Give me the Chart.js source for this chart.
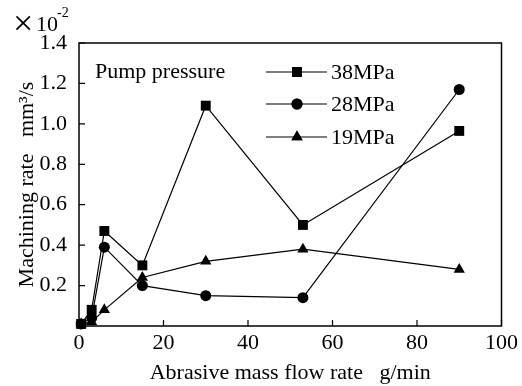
<!DOCTYPE html>
<html>
<head>
<meta charset="utf-8">
<script src="https://cdn.jsdelivr.net/npm/chart.js@4"></script>
<style>
  html, body { margin: 0; background: #fff; }
</style>
</head>
<body>
<canvas id="chart" width="522" height="386"></canvas>
<script>
// values (y in units of 10^-2 mm3/s)
const flowRate = [0.5, 3, 6, 15, 30, 53, 90];
const rate38 = [0.01, 0.08, 0.47, 0.30, 1.09, 0.50, 0.965];
const rate28 = [0.01, 0.04, 0.39, 0.20, 0.15, 0.14, 1.17];
const rate19 = [0.01, 0.02, 0.08, 0.24, 0.32, 0.38, 0.28];
const seriesNames = ["38MPa", "28MPa", "19MPa"];
const markers = ["rect", "circle", "triangle"];
const markerSizes = [7, 5.5, 6.5];
const xTicks = [0, 20, 40, 60, 80, 100];
const yTicks = [0.2, 0.4, 0.6, 0.8, 1.0, 1.2, 1.4];

const FONT = "'Liberation Serif', 'Times New Roman', serif";

function toPoints(ys) {
  return flowRate.map((x, i) => ({ x, y: ys[i] }));
}

// frame, inward ticks, exponent note and the hand-made legend
const decorations = {
  id: "decorations",
  afterDraw(chart) {
    const { ctx, chartArea: a, scales } = chart;
    ctx.save();
    ctx.strokeStyle = "#000";
    ctx.lineWidth = 1.5;
    ctx.strokeRect(a.left, a.top, a.right - a.left, a.bottom - a.top);

    ctx.lineWidth = 1.2;
    ctx.beginPath();
    xTicks.forEach(v => {
      const px = scales.x.getPixelForValue(v);
      ctx.moveTo(px, a.bottom);
      ctx.lineTo(px, a.bottom - 6);
    });
    yTicks.forEach(v => {
      const py = scales.y.getPixelForValue(v);
      ctx.moveTo(a.left, py);
      ctx.lineTo(a.left + 6, py);
    });
    ctx.stroke();

    ctx.fillStyle = "#000";
    ctx.textBaseline = "alphabetic";
    ctx.textAlign = "left";
    ctx.font = "36px " + FONT;
    ctx.fillText("×", 13, 35);
    ctx.font = "22px " + FONT;
    ctx.fillText("10", 36, 31);
    ctx.font = "14px " + FONT;
    ctx.fillText("-2", 57, 17);

    ctx.font = "22px " + FONT;
    ctx.fillText("Pump pressure", 95, 78);

    const rows = [72, 104, 137];
    chart.data.datasets.forEach((ds, i) => {
      const y = rows[i];
      ctx.lineWidth = 1.2;
      ctx.beginPath();
      ctx.moveTo(266, y);
      ctx.lineTo(327, y);
      ctx.stroke();
      Chart.helpers.drawPoint(ctx, {
        pointStyle: ds.pointStyle,
        radius: ds.pointRadius,
        rotation: 0,
        borderWidth: 0
      }, 297, y);
      ctx.fill();
      ctx.textBaseline = "middle";
      ctx.font = "22px " + FONT;
      ctx.fillText(ds.label, 331, y + 1);
    });
    ctx.restore();
  }
};

const datasets = [rate38, rate28, rate19].map((vals, i) => ({
  label: seriesNames[i],
  data: toPoints(vals),
  borderColor: "#000",
  backgroundColor: "#000",
  pointBackgroundColor: "#000",
  pointBorderColor: "#000",
  pointStyle: markers[i],
  pointRadius: markerSizes[i],
  pointBorderWidth: 0,
  borderWidth: 1.2,
  tension: 0,
  clip: false
}));

new Chart(document.getElementById("chart"), {
  type: "line",
  data: { datasets },
  options: {
    responsive: false,
    animation: false,
    layout: { padding: { top: 43, right: 17, left: 0, bottom: 0 } },
    plugins: {
      legend: { display: false },
      tooltip: { enabled: false }
    },
    scales: {
      x: {
        type: "linear",
        min: 0,
        max: 100,
        afterBuildTicks: (s) => { s.ticks = xTicks.map(v => ({ value: v })); },
        afterFit: (s) => { s.height = 60; },
        grid: { display: false, drawTicks: false },
        border: { display: false },
        ticks: { color: "#000", padding: 4, font: { family: FONT, size: 22 }, maxRotation: 0 },
        title: {
          display: true,
          text: "Abrasive mass flow rate   g/min",
          color: "#000",
          font: { family: FONT, size: 22 },
          padding: { top: 0, bottom: 0 }
        }
      },
      y: {
        type: "linear",
        min: 0,
        max: 1.4,
        afterBuildTicks: (s) => { s.ticks = yTicks.map(v => ({ value: v })); },
        afterFit: (s) => { s.width = 79; },
        grid: { display: false, drawTicks: false },
        border: { display: false },
        ticks: {
          color: "#000",
          padding: 12,
          font: { family: FONT, size: 22 },
          callback: (v) => v.toFixed(1)
        },
        title: {
          display: true,
          text: "Machining rate   mm³/s",
          color: "#000",
          font: { family: FONT, size: 22 },
          padding: { top: 14, bottom: 0 }
        }
      }
    }
  },
  plugins: [decorations]
});
</script>
</body>
</html>
